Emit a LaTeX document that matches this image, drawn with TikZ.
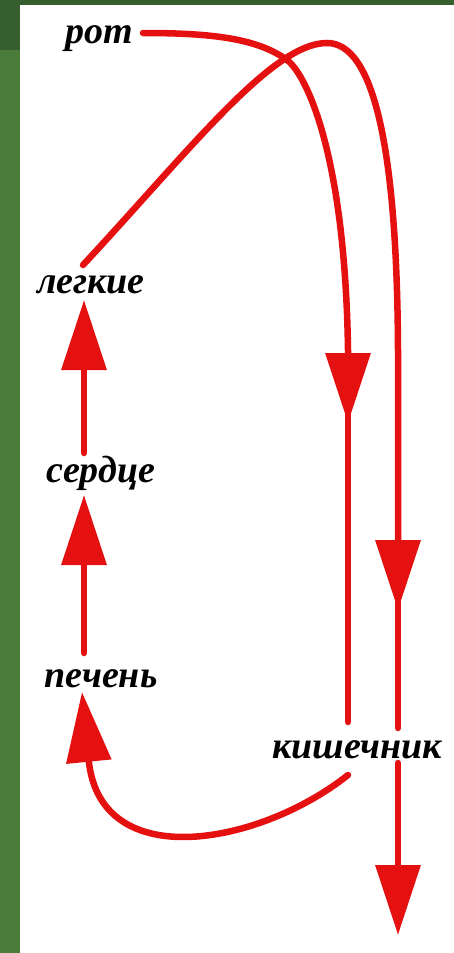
\documentclass[tikz,border=0pt]{standalone}
\usepackage{fontspec}
\setmainfont{Liberation Serif}
\usetikzlibrary{arrows.meta,calc}
\definecolor{flowred}{HTML}{E51010}
\definecolor{darkframe}{HTML}{375E2F}
\definecolor{frame}{HTML}{4B7B38}

\begin{document}
\begin{tikzpicture}[x=1pt, y=-1pt,
  organ/.style={font=\fontsize{38}{44}\selectfont\bfseries\itshape, inner sep=0pt, anchor=base},
  flow/.style={draw=flowred, line width=6.5pt, line cap=round},
  tip/.style={flow, -{Triangle[length=70pt, width=44pt]}}]
\useasboundingbox (0,0) rectangle (454,953);
% frame
\fill[frame] (0,0) rectangle (20,953);
\fill[darkframe] (0,0) rectangle (20,50);
\fill[darkframe] (0,0) rectangle (454,5);
% organs
\node[organ] (rot) at (99,43) {рот};
\node[organ] (lung) at (91,293) {легкие};
\node[organ] (heart) at (101,482) {сердце};
\node[organ] (liver) at (101,687) {печень};
\node[organ] (gut) at (357,758) {кишечник};
% way points
\coordinate (cross) at (287,60);
\coordinate (peak) at (327,43);
\coordinate (innertip) at (348,423);
\coordinate (outertip) at (398,610);
\coordinate (exit) at (398,935);
% mouth -> intestine
\draw[tip] ($(rot.base)+(44,-10)$)
  .. controls (210,33) and (257,38) .. (cross)
  .. controls (305,73) and (345,150) .. (348,350) -- (innertip);
\draw[flow] ($(innertip)+(0,-23)$) -- ($(gut.base)+(-9,-36)$);
% lungs -> intestine
\draw[tip] ($(lung.base)+(-8,-28)$) .. controls (190,150) and (272,43) .. (peak)
  .. controls (372,43) and (397,140) .. (398,350) -- (outertip);
\draw[flow] ($(outertip)+(0,-20)$) -- ($(gut.base)+(41,-30)$);
% intestine -> out
\draw[tip] ($(gut.base)+(41,5)$) -- (exit);
% intestine -> liver
\draw[tip] ($(gut.base)+(-9,17)$) .. controls (260,845) and (100,875) .. ($(liver.base)+(-19,5)$);
% liver -> heart -> lungs
\draw[tip] ($(liver.base)+(-17,-34)$) -- ($(heart.base)+(-17,13)$);
\draw[tip] ($(heart.base)+(-17,-29)$) -- ($(lung.base)+(-7,7)$);
\end{tikzpicture}
\end{document}
